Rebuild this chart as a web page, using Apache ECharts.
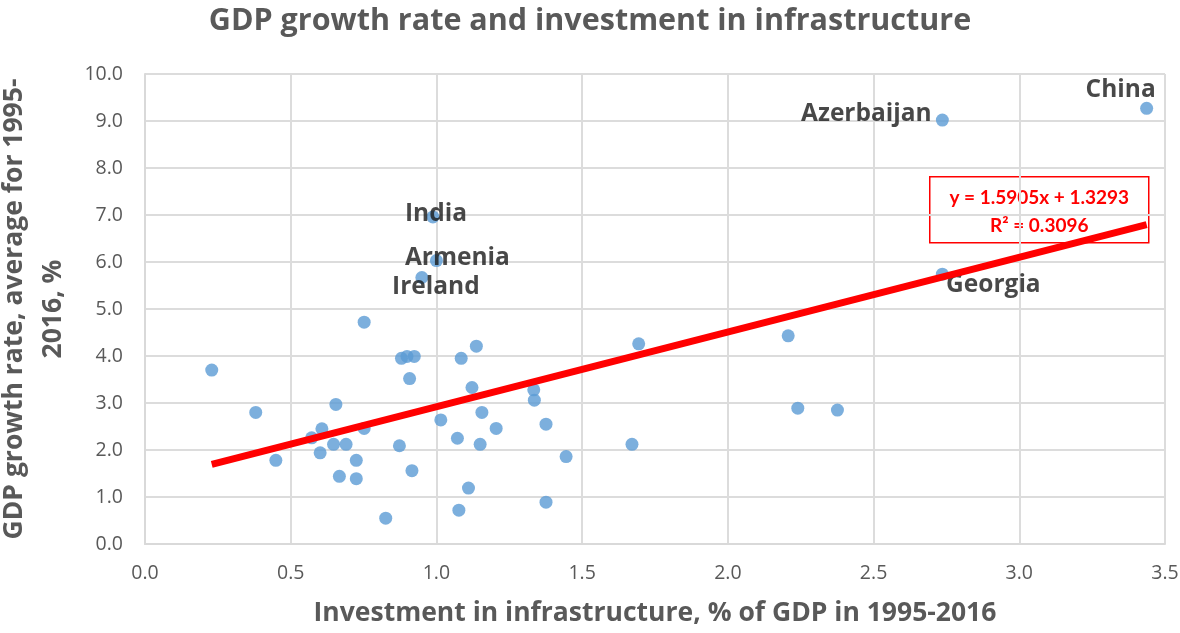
<!DOCTYPE html>
<html><head><meta charset="utf-8">
<script src="https://cdn.jsdelivr.net/npm/echarts@6/dist/echarts.min.js"></script>
<style>html,body{margin:0;padding:0;background:#fff}#c{width:1180px;height:633px}</style>
</head><body><div id="c"></div>
<script>
const investment = [0.229,0.380,0.449,0.572,0.601,0.607,0.647,0.655,0.667,0.690,0.725,0.725,0.752,0.752,0.826,0.873,0.880,0.899,0.924,0.908,0.916,0.950,0.988,1.000,1.015,1.072,1.077,1.085,1.110,1.122,1.137,1.150,1.156,1.205,1.334,1.336,1.376,1.376,1.445,1.671,1.694,2.207,2.240,2.376,2.736,2.736,3.437];
const growth =     [3.70,2.80,1.78,2.26,1.94,2.45,2.12,2.97,1.44,2.12,1.78,1.39,4.72,2.46,0.55,2.09,3.95,3.99,3.99,3.52,1.56,5.67,6.96,6.03,2.64,2.25,0.72,3.95,1.19,3.33,4.21,2.12,2.80,2.46,3.28,3.06,2.55,0.89,1.86,2.12,4.26,4.43,2.89,2.85,9.02,5.74,9.27];
const countries = ['','','','','','','','','','','','','','','','','','','','','','Ireland','India','Armenia','','','','','','','','','','','','','','','','','','','','','Azerbaijan','Georgia','China'];
const labelOffsets = {India:[3,-3], Armenia:[21,-3], Ireland:[14,10], Azerbaijan:[-76,-6], China:[-26,-18], Georgia:[51,11]};
const trendSlope = 1.5905, trendIntercept = 1.3293, trendR2 = 0.3096;
const xTicks = [0,0.5,1,1.5,2,2.5,3,3.5];
const yTicks = [0,1,2,3,4,5,6,7,8,9,10];

const FONT = '"Open Sans"';
const points = investment.map((x,i)=>{
  const d = {value:[x, growth[i]]};
  if (countries[i]) {
    d.label = {show:true, position:'inside', offset:labelOffsets[countries[i]], formatter:countries[i],
      color:'#1a1a1a', fontFamily:FONT, fontWeight:'bold', fontSize:24.5};
  }
  return d;
});
const xmin = Math.min(...investment), xmax = Math.max(...investment);
const trend = [[xmin, trendSlope*xmin+trendIntercept],[xmax, trendSlope*xmax+trendIntercept]];

const chart = echarts.init(document.getElementById('c'));
chart.setOption({
  animation:false,
  title:{text:'GDP growth rate and investment in infrastructure', left:'center', top:1,
    textStyle:{fontFamily:FONT, fontWeight:'bold', fontSize:30.5, color:'#595959'}},
  grid:{left:145, right:15, top:74, bottom:89, outerBoundsMode:'none', containLabel:false},
  xAxis:{type:'value', min:0, max:3.5, interval:0.5,
    name:'Investment in infrastructure, % of GDP in 1995-2016', nameLocation:'middle', nameGap:56,
    nameTextStyle:{fontFamily:FONT, fontWeight:'bold', fontSize:26.5, color:'#595959'},
    axisLine:{show:true, lineStyle:{color:'#d9d9d9', width:2}}, axisTick:{show:false},
    axisLabel:{fontFamily:FONT, fontSize:19.5, color:'#595959', margin:19, formatter:v=>v.toFixed(1)},
    splitLine:{show:true, lineStyle:{color:'#dcdcdc', width:2}}},
  yAxis:{type:'value', min:0, max:10, interval:1,
    name:'GDP growth rate, average for 1995-\n2016, %', nameLocation:'middle', nameGap:72, nameRotate:90,
    nameTextStyle:{fontFamily:FONT, fontWeight:'bold', fontSize:26.5, color:'#595959', lineHeight:39},
    axisLine:{show:true, lineStyle:{color:'#d9d9d9', width:2}}, axisTick:{show:false},
    axisLabel:{fontFamily:FONT, fontSize:19.5, color:'#595959', margin:22, formatter:v=>v.toFixed(1)},
    splitLine:{show:true, lineStyle:{color:'#dcdcdc', width:2}}},
  series:[
    {type:'scatter', data:points, symbolSize:13, itemStyle:{color:'#5B9BD5'}, z:3},
    {type:'line', data:trend, showSymbol:false, symbol:'none', lineStyle:{color:'#FF0000', width:7}, z:4,
      silent:true}
  ],
  graphic:[{type:'group', left:929, top:176, z:10, children:[
    {type:'rect', shape:{x:0,y:0,width:219,height:66}, style:{fill:'#fff', stroke:'#FF0000', lineWidth:1.5}},
    {type:'text', x:109.5, y:7, style:{text:'y = ' + trendSlope.toFixed(4) + 'x + ' + trendIntercept.toFixed(4) + '\nR² = ' + trendR2.toFixed(4),
      align:'center', fill:'#FF0000', font:'bold 19px Lato', lineHeight:28}}
  ]}]
});
</script></body></html>
